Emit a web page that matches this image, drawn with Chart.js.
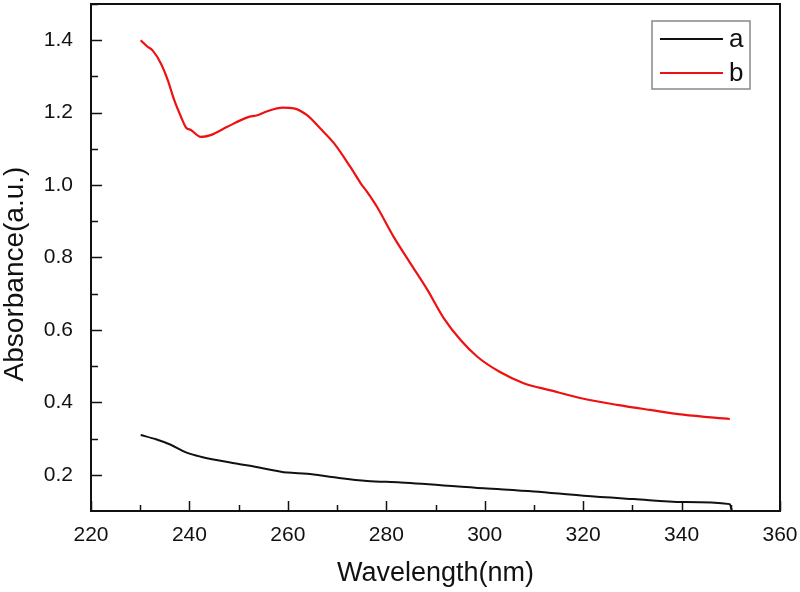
<!DOCTYPE html>
<html>
<head>
<meta charset="utf-8">
<script src="https://cdn.jsdelivr.net/npm/chart.js@4/dist/chart.umd.min.js"></script>
<style>
  html, body { margin: 0; padding: 0; background: #fff; }
  #wrap { width: 800px; height: 592px; }
</style>
</head>
<body>
<div id="wrap"><canvas id="absorbance-chart" width="800" height="592"></canvas></div>
<script>
// --- data ---
const seriesNames = ['a', 'b'];
const waveA = [230.1, 233.2, 236.2, 239.3, 242.3, 249.1, 253.1, 259.9, 263.9, 269.4, 276.1, 282.9,
    299.8, 310.0, 320.1, 330.3, 340.3, 349.8, 350.2];
const absA = [0.310, 0.298, 0.283, 0.262, 0.250, 0.232, 0.223, 0.206, 0.203, 0.193, 0.183, 0.179,
    0.163, 0.154, 0.142, 0.133, 0.125, 0.119, 0.101];
const waveB = [230.1, 231.5, 232.5, 234.2, 235.6, 236.9, 238.3, 239.3, 240.3, 242.3, 244.3, 247.7,
    251.8, 253.8, 255.8, 258.9, 261.2, 263.9, 266.6, 269.4, 272.7, 274.8, 276.1, 278.1, 281.5,
    284.9, 288.3, 291.7, 295.1, 298.5, 303.2, 307.9, 313.4, 320.1, 326.9, 333.6, 340.3, 349.8];
const absB = [1.400, 1.382, 1.372, 1.336, 1.290, 1.235, 1.188, 1.159, 1.152, 1.133, 1.138, 1.161,
    1.187, 1.193, 1.204, 1.214, 1.212, 1.193, 1.156, 1.115, 1.050, 1.005, 0.981, 0.940, 0.857,
    0.784, 0.712, 0.632, 0.572, 0.526, 0.483, 0.453, 0.433, 0.410, 0.393, 0.379, 0.366, 0.354];
const xTicks = [220, 240, 260, 280, 300, 320, 340, 360];
const yTicks = [0.2, 0.4, 0.6, 0.8, 1.0, 1.2, 1.4];
const yTitle = 'Absorbance(a.u.)';

const FONT = "'Liberation Sans', Arial, sans-serif";
const INK = '#111';

function toPoints(xs, ys) {
    return xs.map((x, i) => ({ x: x, y: ys[i] }));
}

// inward ticks, frame, y title and boxed legend like the origin plot
const framePlugin = {
    id: 'frame',
    afterDraw(chart) {
        const ctx = chart.ctx;
        const area = chart.chartArea;
        const xs = chart.scales.x, ys = chart.scales.y;
        ctx.save();
        ctx.strokeStyle = INK;
        ctx.lineWidth = 2;
        ctx.strokeRect(area.left, area.top, area.right - area.left, area.bottom - area.top);

        ctx.lineWidth = 1.5;
        ctx.beginPath();
        xTicks.forEach((v, i) => {
            const px = Math.round(xs.getPixelForValue(v)) + 0.5;
            ctx.moveTo(px, area.bottom);
            ctx.lineTo(px, area.bottom - 10);
            if (i < xTicks.length - 1) {
                const mx = Math.round(xs.getPixelForValue((v + xTicks[i + 1]) / 2)) + 0.5;
                ctx.moveTo(mx, area.bottom);
                ctx.lineTo(mx, area.bottom - 6);
            }
        });
        yTicks.forEach((v, i) => {
            const py = Math.round(ys.getPixelForValue(v)) + 0.5;
            ctx.moveTo(area.left, py);
            ctx.lineTo(area.left + 11, py);
            // minor tick half way to the next label (and one above the last)
            const step = i < yTicks.length - 1 ? yTicks[i + 1] - v : yTicks[1] - yTicks[0];
            const my = Math.round(ys.getPixelForValue(v + step / 2)) + 0.5;
            ctx.moveTo(area.left, my);
            ctx.lineTo(area.left + 7, my);
        });
        ctx.stroke();

        // y title sits a little below the middle in the original
        ctx.save();
        ctx.translate(15, 274);
        ctx.rotate(-Math.PI / 2);
        ctx.font = '28px ' + FONT;
        ctx.fillStyle = INK;
        ctx.textAlign = 'center';
        ctx.textBaseline = 'middle';
        ctx.fillText(yTitle, 0, 0);
        ctx.restore();

        // legend box
        const bx = 652, by = 21, bw = 98, bh = 68;
        ctx.strokeStyle = '#888';
        ctx.lineWidth = 1.5;
        ctx.strokeRect(bx, by, bw, bh);
        ctx.font = '26px ' + FONT;
        ctx.textBaseline = 'middle';
        chart.data.datasets.forEach((ds, i) => {
            const ly = by + 18 + i * 34;
            ctx.strokeStyle = ds.borderColor;
            ctx.lineWidth = 2;
            ctx.beginPath();
            ctx.moveTo(bx + 8, ly);
            ctx.lineTo(bx + 71, ly);
            ctx.stroke();
            ctx.fillStyle = INK;
            ctx.fillText(ds.label, bx + 77, ly + 1);
        });
        ctx.restore();
    }
};

new Chart(document.getElementById('absorbance-chart'), {
    type: 'line',
    data: {
        datasets: [{
            label: seriesNames[0],
            data: toPoints(waveA, absA),
            borderColor: '#111111',
            borderWidth: 2,
            pointRadius: 0,
            cubicInterpolationMode: 'monotone'
        }, {
            label: seriesNames[1],
            data: toPoints(waveB, absB),
            borderColor: '#ee1111',
            borderWidth: 2.2,
            pointRadius: 0,
            cubicInterpolationMode: 'monotone'
        }]
    },
    options: {
        responsive: false,
        animation: false,
        layout: { padding: { top: 4, right: 20, left: 0, bottom: 0 } },
        plugins: {
            legend: { display: false },
            tooltip: { enabled: false }
        },
        scales: {
            x: {
                type: 'linear',
                min: 220, max: 360,
                afterBuildTicks: s => { s.ticks = xTicks.map(v => ({ value: v })); },
                afterFit: s => { s.height = 81; s.paddingLeft = 0; s.paddingRight = 0; },
                grid: { display: false, drawTicks: false },
                border: { display: false },
                ticks: { padding: 12, color: INK, font: { family: FONT, size: 21 } },
                title: {
                    display: true,
                    text: 'Wavelength(nm)',
                    color: INK,
                    font: { family: FONT, size: 27, lineHeight: 1 },
                    padding: { top: 0, bottom: 5 }
                }
            },
            y: {
                type: 'linear',
                min: 0.1, max: 1.5,
                afterBuildTicks: s => { s.ticks = yTicks.map(v => ({ value: v })); },
                afterFit: s => { s.width = 91; s.paddingTop = 0; s.paddingBottom = 0; },
                grid: { display: false, drawTicks: false },
                border: { display: false },
                ticks: {
                    padding: 18, color: INK, font: { family: FONT, size: 21 },
                    callback: v => v.toFixed(1)
                },
                title: { display: false }
            }
        }
    },
    plugins: [framePlugin]
});
</script>
</body>
</html>
